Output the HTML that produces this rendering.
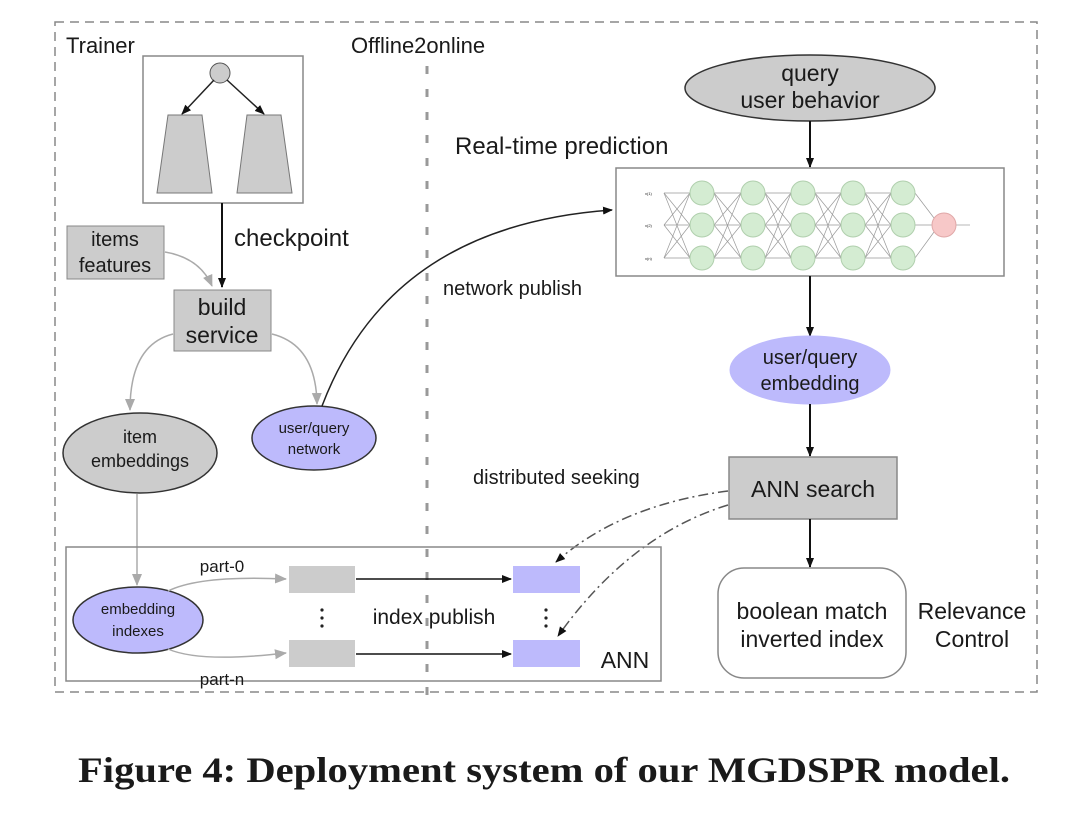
<!DOCTYPE html>
<html><head><meta charset="utf-8"><style>
html,body{margin:0;padding:0;background:#fff;}
svg{display:block;}
text{font-family:"Liberation Sans",sans-serif;fill:#1a1a1a;}
</style></head><body>
<svg width="1080" height="817" viewBox="0 0 1080 817" xmlns="http://www.w3.org/2000/svg">
<defs>
<marker id="ab" markerWidth="10" markerHeight="10" refX="9" refY="5" orient="auto" markerUnits="userSpaceOnUse"><path d="M0,1 L10,5 L0,9 Z" fill="#111"/></marker>
<marker id="ag" markerWidth="12" markerHeight="12" refX="11" refY="6" orient="auto" markerUnits="userSpaceOnUse"><path d="M0,1 L12,6 L0,11 Z" fill="#aaa"/></marker>
</defs>
<rect x="55" y="22" width="982" height="670" fill="none" stroke="#888" stroke-width="1.5" stroke-dasharray="9,6"/>
<line x1="427" y1="66" x2="427" y2="700" stroke="#999" stroke-width="3" stroke-dasharray="8,15"/>
<text x="66" y="53" font-size="22">Trainer</text>
<text x="351" y="53" font-size="22">Offline2online</text>

<rect x="143" y="56" width="160" height="147" fill="#fff" stroke="#888" stroke-width="1.5"/>
<circle cx="220" cy="73" r="10" fill="#ccc" stroke="#555"/>
<line x1="214" y1="80" x2="182" y2="114" stroke="#222" stroke-width="1.5" marker-end="url(#ab)"/>
<line x1="227" y1="80" x2="264" y2="114" stroke="#222" stroke-width="1.5" marker-end="url(#ab)"/>
<polygon points="168,115 202,115 212,193 157,193" fill="#ccc" stroke="#777"/>
<polygon points="247,115 281,115 292,193 237,193" fill="#ccc" stroke="#777"/>
<line x1="222" y1="203" x2="222" y2="287" stroke="#111" stroke-width="2" marker-end="url(#ab)"/>
<text x="234" y="246" font-size="24">checkpoint</text>

<rect x="67" y="226" width="97" height="53" fill="#ccc" stroke="#888"/>
<text x="115" y="246" font-size="20" text-anchor="middle">items</text>
<text x="115" y="272" font-size="20" text-anchor="middle">features</text>
<path d="M165,252 Q200,258 212,286" fill="none" stroke="#aaa" stroke-width="1.5" marker-end="url(#ag)"/>

<rect x="174" y="290" width="97" height="61" fill="#ccc" stroke="#888"/>
<text x="222" y="315" font-size="23" text-anchor="middle">build</text>
<text x="222" y="343" font-size="23" text-anchor="middle">service</text>

<path d="M173,334 Q130,345 130,410" fill="none" stroke="#aaa" stroke-width="1.5" marker-end="url(#ag)"/>
<path d="M272,334 Q316,345 317,404" fill="none" stroke="#aaa" stroke-width="1.5" marker-end="url(#ag)"/>

<ellipse cx="140" cy="453" rx="77" ry="40" fill="#ccc" stroke="#333" stroke-width="1.5"/>
<text x="140" y="443" font-size="18" text-anchor="middle">item</text>
<text x="140" y="467" font-size="18" text-anchor="middle">embeddings</text>

<ellipse cx="314" cy="438" rx="62" ry="32" fill="#bdbafc" stroke="#333" stroke-width="1.5"/>
<text x="314" y="433" font-size="15" text-anchor="middle">user/query</text>
<text x="314" y="454" font-size="15" text-anchor="middle">network</text>

<path d="M322,406 C370,280 470,220 612,210" fill="none" stroke="#222" stroke-width="1.5" marker-end="url(#ab)"/>
<text x="443" y="295" font-size="20">network publish</text>

<line x1="137" y1="494" x2="137" y2="585" stroke="#aaa" stroke-width="1.5" marker-end="url(#ag)"/>

<ellipse cx="810" cy="88" rx="125" ry="33" fill="#ccc" stroke="#333" stroke-width="1.5"/>
<text x="810" y="81" font-size="23" text-anchor="middle">query</text>
<text x="810" y="108" font-size="23" text-anchor="middle">user behavior</text>
<line x1="810" y1="121" x2="810" y2="167" stroke="#111" stroke-width="2" marker-end="url(#ab)"/>
<text x="455" y="154" font-size="24">Real-time prediction</text>

<rect x="616" y="168" width="388" height="108" fill="#fff" stroke="#888" stroke-width="1.5"/>
<g stroke="#999" stroke-width="0.7">
<line x1="664" y1="193" x2="690" y2="193"/><line x1="664" y1="193" x2="690" y2="225"/><line x1="664" y1="193" x2="690" y2="258"/>
<line x1="664" y1="225" x2="690" y2="193"/><line x1="664" y1="225" x2="690" y2="225"/><line x1="664" y1="225" x2="690" y2="258"/>
<line x1="664" y1="258" x2="690" y2="193"/><line x1="664" y1="258" x2="690" y2="225"/><line x1="664" y1="258" x2="690" y2="258"/>
<line x1="714" y1="193" x2="741" y2="193"/><line x1="714" y1="193" x2="741" y2="225"/><line x1="714" y1="193" x2="741" y2="258"/>
<line x1="714" y1="225" x2="741" y2="193"/><line x1="714" y1="225" x2="741" y2="225"/><line x1="714" y1="225" x2="741" y2="258"/>
<line x1="714" y1="258" x2="741" y2="193"/><line x1="714" y1="258" x2="741" y2="225"/><line x1="714" y1="258" x2="741" y2="258"/>
<line x1="765" y1="193" x2="791" y2="193"/><line x1="765" y1="193" x2="791" y2="225"/><line x1="765" y1="193" x2="791" y2="258"/>
<line x1="765" y1="225" x2="791" y2="193"/><line x1="765" y1="225" x2="791" y2="225"/><line x1="765" y1="225" x2="791" y2="258"/>
<line x1="765" y1="258" x2="791" y2="193"/><line x1="765" y1="258" x2="791" y2="225"/><line x1="765" y1="258" x2="791" y2="258"/>
<line x1="815" y1="193" x2="841" y2="193"/><line x1="815" y1="193" x2="841" y2="225"/><line x1="815" y1="193" x2="841" y2="258"/>
<line x1="815" y1="225" x2="841" y2="193"/><line x1="815" y1="225" x2="841" y2="225"/><line x1="815" y1="225" x2="841" y2="258"/>
<line x1="815" y1="258" x2="841" y2="193"/><line x1="815" y1="258" x2="841" y2="225"/><line x1="815" y1="258" x2="841" y2="258"/>
<line x1="865" y1="193" x2="891" y2="193"/><line x1="865" y1="193" x2="891" y2="225"/><line x1="865" y1="193" x2="891" y2="258"/>
<line x1="865" y1="225" x2="891" y2="193"/><line x1="865" y1="225" x2="891" y2="225"/><line x1="865" y1="225" x2="891" y2="258"/>
<line x1="865" y1="258" x2="891" y2="193"/><line x1="865" y1="258" x2="891" y2="225"/><line x1="865" y1="258" x2="891" y2="258"/>
<line x1="915" y1="193" x2="934" y2="218"/><line x1="915" y1="225" x2="932" y2="225"/><line x1="915" y1="258" x2="934" y2="232"/>
<line x1="956" y1="225" x2="970" y2="225"/>
</g>
<g fill="#d4ecd2" stroke="#b0cfad" stroke-width="1">
<circle cx="702" cy="193" r="12"/><circle cx="702" cy="225" r="12"/><circle cx="702" cy="258" r="12"/>
<circle cx="753" cy="193" r="12"/><circle cx="753" cy="225" r="12"/><circle cx="753" cy="258" r="12"/>
<circle cx="803" cy="193" r="12"/><circle cx="803" cy="225" r="12"/><circle cx="803" cy="258" r="12"/>
<circle cx="853" cy="193" r="12"/><circle cx="853" cy="225" r="12"/><circle cx="853" cy="258" r="12"/>
<circle cx="903" cy="193" r="12"/><circle cx="903" cy="225" r="12"/><circle cx="903" cy="258" r="12"/>
</g>
<circle cx="944" cy="225" r="12" fill="#f7c8c8" stroke="#e0a8a8"/>
<g font-size="4" fill="#666"><text x="645" y="195">x(1)</text><text x="645" y="227">x(2)</text><text x="645" y="260">x(n)</text></g>

<line x1="810" y1="276" x2="810" y2="336" stroke="#111" stroke-width="2" marker-end="url(#ab)"/>
<ellipse cx="810" cy="370" rx="80" ry="34" fill="#bdbafc" stroke="#bdbafc"/>
<text x="810" y="364" font-size="20" text-anchor="middle">user/query</text>
<text x="810" y="390" font-size="20" text-anchor="middle">embedding</text>
<line x1="810" y1="404" x2="810" y2="456" stroke="#111" stroke-width="2" marker-end="url(#ab)"/>

<rect x="729" y="457" width="168" height="62" fill="#ccc" stroke="#888" stroke-width="1.5"/>
<text x="813" y="497" font-size="23" text-anchor="middle">ANN search</text>
<text x="473" y="484" font-size="20">distributed seeking</text>
<line x1="810" y1="519" x2="810" y2="567" stroke="#111" stroke-width="2" marker-end="url(#ab)"/>

<rect x="718" y="568" width="188" height="110" rx="26" fill="#fff" stroke="#888" stroke-width="1.5"/>
<text x="812" y="619" font-size="23" text-anchor="middle">boolean match</text>
<text x="812" y="647" font-size="23" text-anchor="middle">inverted index</text>
<text x="972" y="619" font-size="23" text-anchor="middle">Relevance</text>
<text x="972" y="647" font-size="23" text-anchor="middle">Control</text>

<path d="M728,491 Q620,505 556,562" fill="none" stroke="#555" stroke-width="1.5" stroke-dasharray="10,4,2,4" marker-end="url(#ab)"/>
<path d="M728,505 Q630,535 558,636" fill="none" stroke="#555" stroke-width="1.5" stroke-dasharray="10,4,2,4" marker-end="url(#ab)"/>

<rect x="66" y="547" width="595" height="134" fill="none" stroke="#888" stroke-width="1.5"/>
<ellipse cx="138" cy="620" rx="65" ry="33" fill="#bdbafc" stroke="#333" stroke-width="1.5"/>
<text x="138" y="614" font-size="15" text-anchor="middle">embedding</text>
<text x="138" y="636" font-size="15" text-anchor="middle">indexes</text>
<path d="M168,591 Q200,575 286,579" fill="none" stroke="#aaa" stroke-width="1.5" marker-end="url(#ag)"/>
<path d="M168,649 Q200,663 286,653" fill="none" stroke="#aaa" stroke-width="1.5" marker-end="url(#ag)"/>
<text x="222" y="572" font-size="17" text-anchor="middle">part-0</text>
<text x="222" y="685" font-size="17" text-anchor="middle">part-n</text>
<rect x="289" y="566" width="66" height="27" fill="#ccc"/>
<rect x="289" y="640" width="66" height="27" fill="#ccc"/>
<rect x="513" y="566" width="67" height="27" fill="#bdbafc"/>
<rect x="513" y="640" width="67" height="27" fill="#bdbafc"/>
<line x1="356" y1="579" x2="511" y2="579" stroke="#111" stroke-width="1.5" marker-end="url(#ab)"/>
<line x1="356" y1="654" x2="511" y2="654" stroke="#111" stroke-width="1.5" marker-end="url(#ab)"/>
<g fill="#222"><circle cx="322" cy="610" r="1.6"/><circle cx="322" cy="618" r="1.6"/><circle cx="322" cy="626" r="1.6"/>
<circle cx="546" cy="610" r="1.6"/><circle cx="546" cy="618" r="1.6"/><circle cx="546" cy="626" r="1.6"/></g>
<text x="434" y="624" font-size="21" text-anchor="middle">index publish</text>
<text x="625" y="668" font-size="23" text-anchor="middle">ANN</text>

<text x="78" y="782" font-size="36" font-weight="bold" textLength="932" lengthAdjust="spacingAndGlyphs" style="font-family:'Liberation Serif',serif" fill="#000">Figure 4: Deployment system of our MGDSPR model.</text>
</svg>
</body></html>
